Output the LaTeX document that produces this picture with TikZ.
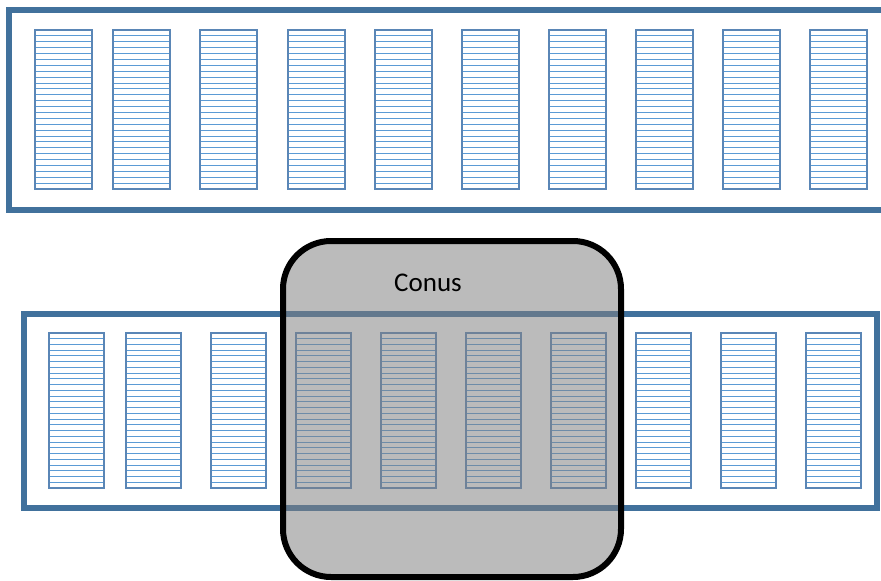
\documentclass[tikz,border=0pt]{standalone}
\usepackage{fontspec}
\setmainfont{Carlito}
\usetikzlibrary{calc}
\definecolor{framecol}{HTML}{41719C}
\definecolor{stripecol}{HTML}{5B9BD5}
\definecolor{barcol}{HTML}{5A86B6}
\definecolor{conusfill}{RGB}{128,128,128}
\tikzset{
  frame/.style={draw=framecol, line width=6pt, rectangle, inner sep=0pt, outer sep=0pt, anchor=north west},
  stripeline/.style={draw=stripecol, line width=1pt},
  shelf/.style={draw=barcol, line width=1.3pt, rectangle, inner sep=0pt, outer sep=0pt, anchor=north west,
    path picture={
      \foreach \k in {1,...,26}{
        \draw[stripeline]
          ($(path picture bounding box.north west)!{\k/27}!(path picture bounding box.south west)$) --
          ($(path picture bounding box.north east)!{\k/27}!(path picture bounding box.south east)$);
      }
    }},
  topshelf/.style={shelf, minimum width=57pt, minimum height=159pt},
  lowshelf/.style={shelf, minimum width=55pt, minimum height=155pt},
  conusbox/.style={draw=black, line width=6pt, rounded corners=48pt, fill=conusfill, fill opacity=0.53,
    rectangle, inner sep=0pt, outer sep=0pt, anchor=north west, minimum width=338pt, minimum height=336pt},
  label/.style={font=\fontsize{27}{32}\selectfont, text=black, inner sep=0pt}
}
\begin{document}
\begin{tikzpicture}[x=1pt, y=-1pt]
  \clip (0,0) rectangle (881,581);
  \fill[white] (0,0) rectangle (881,581);

  % upper rack, runs past the right edge
  \node[frame, minimum width=900pt, minimum height=200pt] (upper) at (9,10) {};
  \foreach \x [count=\n] in {35,113,200,288,375,462,549,636,723,810}{
    \node[topshelf] (u\n) at (\x,30) {};
  }

  % lower rack
  \node[frame, minimum width=853pt, minimum height=194pt] (lower) at (24,314) {};
  \foreach \x [count=\n] in {49,126,211,296,381,466,551,636,721,806}{
    \node[lowshelf] (l\n) at (\x,333) {};
  }

  % translucent cone zone over the lower rack
  \node[conusbox] (conus) at (283,241) {};
  \node[label] (conustext) at (428,283) {Conus};
\end{tikzpicture}
\end{document}
